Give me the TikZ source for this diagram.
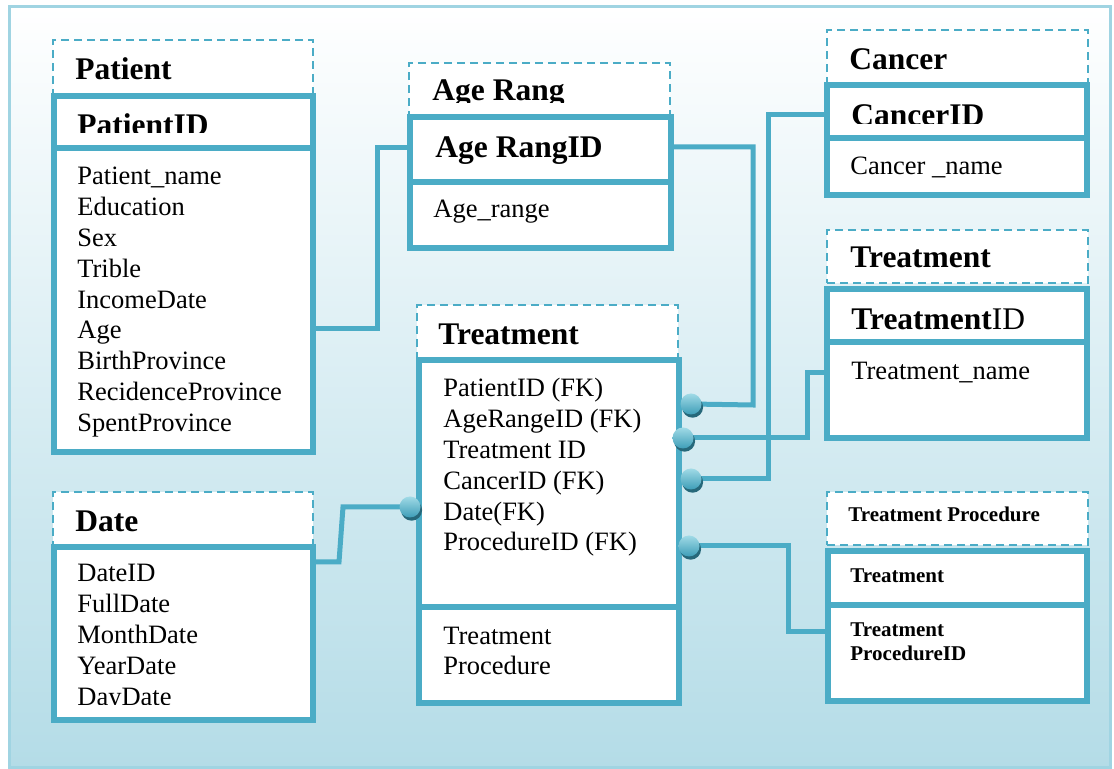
\documentclass[tikz,border=0pt]{standalone}
\usepackage{fontspec}
\setmainfont{Liberation Serif}
\usetikzlibrary{shadows}
\definecolor{erline}{RGB}{75,172,198}
\definecolor{frameline}{RGB}{160,212,226}
\definecolor{bgbottom}{RGB}{180,220,231}
\definecolor{bgmid}{RGB}{226,241,246}
\definecolor{balltop}{RGB}{160,218,230}
\definecolor{ballbottom}{RGB}{62,158,184}
\definecolor{ballshade}{RGB}{38,104,122}
\begin{document}
\begin{tikzpicture}[x=0.5pt,y=-0.5pt,
  headbox/.style={draw=erline, line width=1.4pt, dash pattern=on 4pt off 2.5pt,
    fill=white, anchor=north west, inner sep=0pt, outer sep=0pt},
  bodybox/.style={draw=erline, line width=3pt, fill=white, anchor=north west,
    inner sep=0pt, outer sep=0pt},
  divider/.style={draw=erline, line width=3pt},
  conn/.style={draw=erline, line width=2.5pt},
  ball/.style={circle, minimum size=10.5pt, inner sep=0pt, top color=balltop,
    bottom color=ballbottom,
    drop shadow={shadow xshift=0.8pt, shadow yshift=-1.6pt, fill=ballshade, opacity=1}},
  attr/.style={anchor=base west, inner sep=0pt, font=\fontsize{13.25}{16}\selectfont},
  head/.style={anchor=base west, inner sep=0pt, font=\fontsize{15.75}{18}\selectfont\bfseries},
  headplain/.style={anchor=base west, inner sep=0pt, font=\fontsize{15.75}{18}\selectfont},
  small/.style={anchor=base west, inner sep=0pt, font=\fontsize{10.5}{12}\selectfont\bfseries},
]
\useasboundingbox (0,0) rectangle (1114,769);
% page background and frame
\fill[white] (0,0) rectangle (1114,769);
\shade[top color=white, middle color=bgmid, bottom color=bgbottom] (9,7) rectangle (1110,767);
\draw[frameline, line width=1.5pt] (9,7) rectangle (1110,767);

% ---- Patient ----
\node[headbox, minimum width=130pt, minimum height=27.5pt] (pathead) at (53,40) {};
\node[bodybox, minimum width=129.5pt, minimum height=178pt] (patbody) at (54,96) {};
\draw[divider] (patbody.west |- 0,148) -- (patbody.east |- 0,148);
\node[head] (pattitle) at (75,80) {Patient};
\begin{scope}
  \clip (54,96) rectangle (313,133);
  \node[head] (patkey) at (77,136) {PatientID};
\end{scope}
\foreach \t [count=\i] in {Patient\_name, Education, Sex, Trible, IncomeDate, Age,
  BirthProvince, RecidenceProvince, SpentProvince}
  \node[attr] (pat-\i) at ({77},{185+30.8*(\i-1)}) {\t};

% ---- Age Rang ----
\node[headbox, minimum width=130.5pt, minimum height=27pt] (agehead) at (409,63) {};
\node[bodybox, minimum width=130.5pt, minimum height=65.5pt] (agebody) at (410,117) {};
\draw[divider] (agebody.west |- 0,182) -- (agebody.east |- 0,182);
\begin{scope}
  \clip (409,63) rectangle (670,103);
  \node[head] (agetitle) at (432,101) {Age Rang};
\end{scope}
\node[head] (agekey) at (435,158) {Age RangID};
\node[attr] (age-1) at (433,218) {Age\_range};

% ---- Cancer ----
\node[headbox, minimum width=130.5pt, minimum height=27.5pt] (canhead) at (827,30) {};
\node[bodybox, minimum width=130pt, minimum height=55pt] (canbody) at (827,85) {};
\draw[divider] (canbody.west |- 0,138) -- (canbody.east |- 0,138);
\node[head] (cantitle) at (849,70) {Cancer};
\begin{scope}
  \clip (827,85) rectangle (1087,124);
  \node[head] (cankey) at (851,126) {CancerID};
\end{scope}
\node[attr] (can-1) at (850,175) {Cancer \_name};

% ---- Treatment (lookup) ----
\node[headbox, minimum width=130.5pt, minimum height=26.5pt] (trhead) at (827,230) {};
\node[bodybox, minimum width=130pt, minimum height=74.5pt] (trbody) at (827,289) {};
\draw[divider] (trbody.west |- 0,342) -- (trbody.east |- 0,342);
\node[head] (trtitle) at (850,268) {Treatment};
\node[headplain] (trkey) at (851,330) {{\bfseries Treatment}ID};
\node[attr] (tr-1) at (851,380) {Treatment\_name};

% ---- Treatment (fact) ----
\node[headbox, minimum width=130.5pt, minimum height=27.5pt] (facthead) at (417,305) {};
\node[bodybox, minimum width=130pt, minimum height=171.5pt] (factbody) at (419,360) {};
\draw[divider] (factbody.west |- 0,607) -- (factbody.east |- 0,607);
\node[head] (facttitle) at (438,345) {Treatment};
\foreach \t [count=\i] in {PatientID (FK), AgeRangeID (FK), Treatment ID, CancerID (FK),
  Date(FK), ProcedureID (FK)}
  \node[attr] (fact-\i) at ({443},{397+30.8*(\i-1)}) {\t};
\node[attr] (fact-p1) at (443,645) {Treatment};
\node[attr] (fact-p2) at (443,675) {Procedure};

% ---- Date ----
\node[headbox, minimum width=130pt, minimum height=27.5pt] (datehead) at (53,492) {};
\node[bodybox, minimum width=129.5pt, minimum height=86.5pt] (datebody) at (54,547) {};
\node[head] (datetitle) at (75,532) {Date};
\begin{scope}
  \clip (54,547) rectangle (313,705);
  \foreach \t [count=\i] in {DateID, FullDate, MonthDate, YearDate, DayDate}
    \node[attr] (date-\i) at ({77},{582+30.8*(\i-1)}) {\t};
\end{scope}

% ---- Treatment Procedure ----
\node[headbox, minimum width=130.5pt, minimum height=26.5pt] (tphead) at (827,492) {};
\node[bodybox, minimum width=129.5pt, minimum height=75pt] (tpbody) at (828,551) {};
\draw[divider] (tpbody.west |- 0,605) -- (tpbody.east |- 0,605);
\node[small] (tptitle) at (848,522) {Treatment Procedure};
\node[small] (tpkey) at (850,583) {Treatment};
\node[small] (tp-1) at (850,637) {Treatment};
\node[small] (tp-2) at (850,661) {ProcedureID};

% ---- connectors ----
\coordinate (b1) at (691,404);
\coordinate (b2) at (683,438);
\coordinate (b3) at (691,479);
\coordinate (b4) at (689,546);
\coordinate (b5) at (410,507);
\draw[conn] (patbody.east |- 0,329) -- (377,329) -- (377,148) -- (agebody.west |- 0,148);
\draw[conn] (agebody.east |- 0,147) -- (753,147) -- (753,405) -- (b1);
\draw[conn] (canbody.west |- 0,115) -- (768,115) -- (768,479) -- (b3);
\draw[conn] (trbody.west |- 0,373) -- (807,373) -- (807,438) -- (b2);
\draw[conn] (b4) -- (788,546) -- (788,632) -- (tpbody.west |- 0,632);
\draw[conn] (datebody.east |- 0,562) -- (339,562) -- (343,507) -- (b5);

% ---- connector end balls ----
\foreach \b in {b1,b2,b3,b4,b5}
  \node[ball] (\b-dot) at (\b) {};
\end{tikzpicture}
\end{document}
